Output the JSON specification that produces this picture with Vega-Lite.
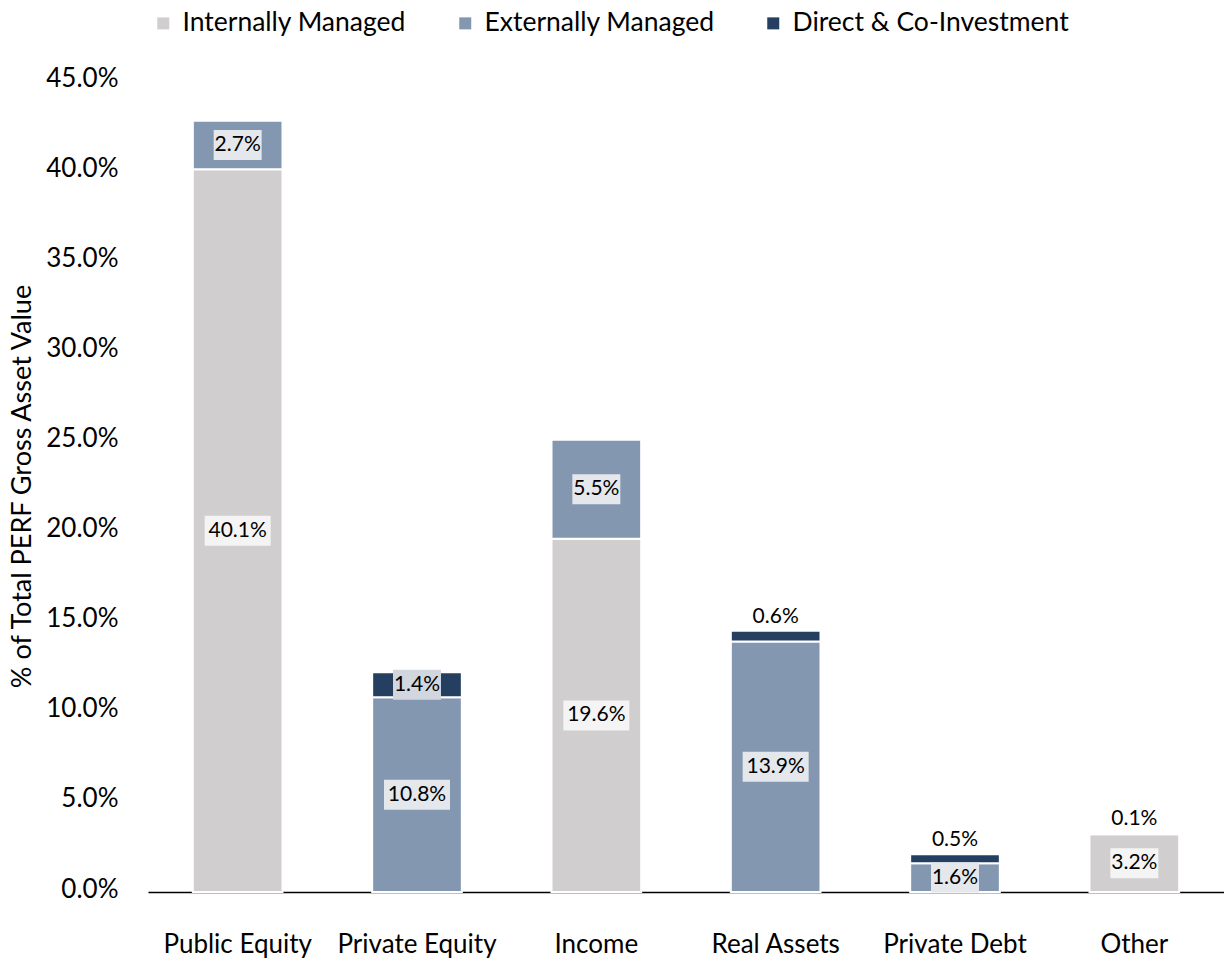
{
  "$schema": "https://vega.github.io/schema/vega-lite/v6.json",
  "width": 1076,
  "height": 811,
  "autosize": {"type": "none"},
  "padding": {"left": 148, "top": 81, "right": 0, "bottom": 69},
  "config": {
    "view": {"stroke": null},
    "font": "Lato",
    "text": {"font": "Lato"}
  },
  "data": {
    "values": [
      {"category": "Public Equity", "series": "Internally Managed", "value": 0.401},
      {"category": "Public Equity", "series": "Externally Managed", "value": 0.027},
      {"category": "Private Equity", "series": "Externally Managed", "value": 0.108},
      {"category": "Private Equity", "series": "Direct & Co-Investment", "value": 0.014},
      {"category": "Income", "series": "Internally Managed", "value": 0.196},
      {"category": "Income", "series": "Externally Managed", "value": 0.055},
      {"category": "Real Assets", "series": "Externally Managed", "value": 0.139},
      {"category": "Real Assets", "series": "Direct & Co-Investment", "value": 0.006},
      {"category": "Private Debt", "series": "Externally Managed", "value": 0.016},
      {"category": "Private Debt", "series": "Direct & Co-Investment", "value": 0.005},
      {"category": "Other", "series": "Internally Managed", "value": 0.032},
      {"category": "Other", "series": "Externally Managed", "value": 0.001}
    ]
  },
  "transform": [
    {"stack": "value", "groupby": ["category"], "sort": [{"field": "series", "order": "descending"}], "as": ["v0", "v1"]},
    {"calculate": "(datum.v0 + datum.v1) / 2", "as": "mid"}
  ],
  "encoding": {
    "x": {
      "field": "category",
      "type": "nominal",
      "sort": ["Public Equity", "Private Equity", "Income", "Real Assets", "Private Debt", "Other"],
      "scale": {"paddingInner": 0.5, "paddingOuter": 0.25},
      "axis": {
        "title": null,
        "labelAngle": 0,
        "labelFontSize": 26,
        "labelColor": "#000000",
        "labelPadding": 39,
        "labelBaseline": "top",
        "labelLimit": 0,
        "ticks": false,
        "domainColor": "#000000",
        "domainWidth": 1.5
      }
    }
  },
  "layer": [
    {
      "mark": {"type": "bar", "stroke": "#ffffff", "strokeWidth": 2},
      "encoding": {
        "y": {
          "field": "v1",
          "type": "quantitative",
          "scale": {"domain": [0, 0.45], "nice": false},
          "axis": {
            "title": "% of Total PERF Gross Asset Value",
            "titleFontSize": 27,
            "titleFontWeight": "normal",
            "titleColor": "#000000",
            "titleX": -126,
            "titleY": 405,
            "titleAngle": -90,
            "titleAlign": "center",
            "titleBaseline": "middle",
            "titleLimit": 0,
            "values": [0, 0.05, 0.1, 0.15, 0.2, 0.25, 0.3, 0.35, 0.4, 0.45],
            "format": ".1%",
            "labelFontSize": 26,
            "labelColor": "#000000",
            "labelPadding": 30,
            "labelOffset": -3,
            "ticks": false,
            "domain": false,
            "grid": false
          }
        },
        "y2": {"field": "v0"},
        "color": {
          "field": "series",
          "type": "nominal",
          "sort": ["Internally Managed", "Externally Managed", "Direct & Co-Investment"],
          "scale": {
            "domain": ["Internally Managed", "Externally Managed", "Direct & Co-Investment"],
            "range": ["#d0cece", "#8497b0", "#243f60"]
          },
          "legend": {
            "title": null,
            "orient": "none",
            "direction": "horizontal",
            "legendX": 2,
            "legendY": -71,
            "symbolType": "square",
            "symbolSize": 144,
            "symbolStrokeWidth": 0,
            "labelFontSize": 26.5,
            "labelColor": "#000000",
            "labelOffset": 6,
            "labelLimit": 0,
            "columnPadding": 45
          }
        }
      }
    },
    {
      "transform": [{"filter": "datum.value >= 0.01"}],
      "mark": {"type": "point", "filled": true, "size": 4356, "strokeWidth": 0, "opacity": 1},
      "encoding": {
        "y": {"field": "mid", "type": "quantitative"},
        "fill": {
          "field": "series",
          "type": "nominal",
          "scale": {
            "domain": ["Internally Managed", "Externally Managed", "Direct & Co-Investment"],
            "range": ["#f4f4f4", "#e4e7ec", "#d2d7df"]
          },
          "legend": null
        },
        "shape": {
          "condition": {"test": "datum.value >= 0.1", "value": "M-1,-0.4545L1,-0.4545L1,0.4545L-1,0.4545Z"},
          "value": "M-0.727,-0.4545L0.727,-0.4545L0.727,0.4545L-0.727,0.4545Z"
        }
      }
    },
    {
      "transform": [{"filter": "datum.value >= 0.01"}],
      "mark": {"type": "text", "fontSize": 21, "color": "#000000", "baseline": "middle", "align": "center"},
      "encoding": {
        "y": {"field": "mid", "type": "quantitative"},
        "text": {"field": "value", "type": "quantitative", "format": ".1%"}
      }
    },
    {
      "transform": [{"filter": "datum.value < 0.01"}],
      "mark": {"type": "text", "fontSize": 21, "color": "#000000", "baseline": "middle", "align": "center", "dy": -14},
      "encoding": {
        "y": {"field": "v1", "type": "quantitative"},
        "text": {"field": "value", "type": "quantitative", "format": ".1%"}
      }
    }
  ]
}
